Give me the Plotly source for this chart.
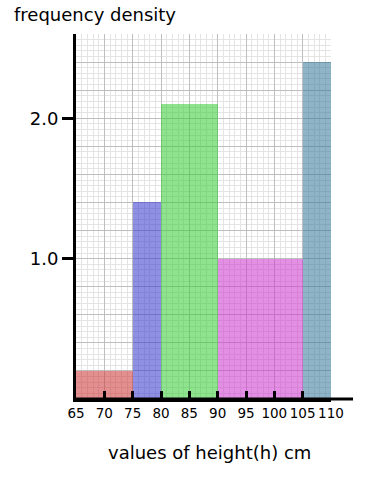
import plotly.graph_objects as go

# data
bin_starts = [65, 75, 80, 90, 105]
bin_ends = [75, 80, 90, 105, 110]
freq_density = [0.2, 1.4, 2.1, 1.0, 2.4]
bar_colors = ["rgb(204,51,51)", "rgb(51,51,204)", "rgb(51,204,51)", "rgb(204,51,204)", "rgb(51,119,153)"]
x_ticks = [65, 70, 75, 80, 85, 90, 95, 100, 105, 110]
y_ticks = [1.0, 2.0]
y_ticktext = ["1.0", "2.0"]

widths = [e - s for s, e in zip(bin_starts, bin_ends)]
centers = [(s + e) / 2 for s, e in zip(bin_starts, bin_ends)]

FONT = "DejaVu Sans"
MAJOR = "rgb(190,190,190)"
MINOR = "rgb(228,228,228)"
Y_MAX = 2.6

fig = go.Figure()
fig.add_trace(go.Bar(
    x=centers, y=freq_density, width=widths,
    marker=dict(color=bar_colors, opacity=0.55, line=dict(width=0)),
    showlegend=False, hoverinfo="skip",
))
# invisible trace so the overlaying grid axis is drawn
fig.add_trace(go.Scatter(x=[65], y=[0], yaxis="y2", mode="markers",
                         marker=dict(opacity=0), showlegend=False, hoverinfo="skip"))

fig.update_layout(
    width=370, height=481,
    margin=dict(l=76, r=39, t=34, b=82),
    plot_bgcolor="white", paper_bgcolor="white",
    font=dict(family=FONT, color="black"),
    bargap=0,
    xaxis=dict(
        range=[65, 110], tickvals=x_ticks, ticktext=[str(v) for v in x_ticks],
        showgrid=True, gridcolor=MAJOR, gridwidth=1,
        minor=dict(dtick=1, tick0=65, showgrid=True, gridcolor=MINOR, gridwidth=1),
        ticks="inside", ticklen=8, tickwidth=3, tickcolor="black",
        tickangle=0, ticklabelstandoff=0,
        tickfont=dict(size=13.5, family=FONT),
        showline=True, linecolor="black", linewidth=3, zeroline=False,
        fixedrange=True, layer="above traces",
    ),
    yaxis=dict(
        range=[0, Y_MAX], tickvals=y_ticks, ticktext=y_ticktext,
        ticks="outside", ticklen=11, tickwidth=3, tickcolor="black",
        tickfont=dict(size=18, family=FONT), showgrid=False, zeroline=False,
        minor=dict(dtick=0.04, tick0=0, showgrid=True, gridcolor=MINOR, gridwidth=1),
        showline=True, linecolor="black", linewidth=3, fixedrange=True,
    ),
    yaxis2=dict(
        overlaying="y", side="left", anchor="x", range=[0, Y_MAX], dtick=0.2, tick0=0,
        showticklabels=False, ticks="", showgrid=True, gridcolor=MAJOR, gridwidth=1,
        showline=False, zeroline=False, fixedrange=True,
    ),
    annotations=[
        dict(text="frequency density", xref="paper", yref="paper",
             x=(12 - 76) / 255, y=1 + 20 / 365, xanchor="left", yanchor="middle",
             showarrow=False, font=dict(size=18, family=FONT)),
        dict(text="values of height(h) cm", xref="paper", yref="paper",
             x=(209 - 76) / 255, y=(399 - 452) / 365, xanchor="center", yanchor="middle",
             showarrow=False, font=dict(size=18, family=FONT)),
    ],
    shapes=[dict(type="line", xref="paper", yref="paper", x0=0, x1=(353 - 76) / 255, y0=0, y1=0,
                 line=dict(color="black", width=3))],
)

fig.write_html("out.html")
